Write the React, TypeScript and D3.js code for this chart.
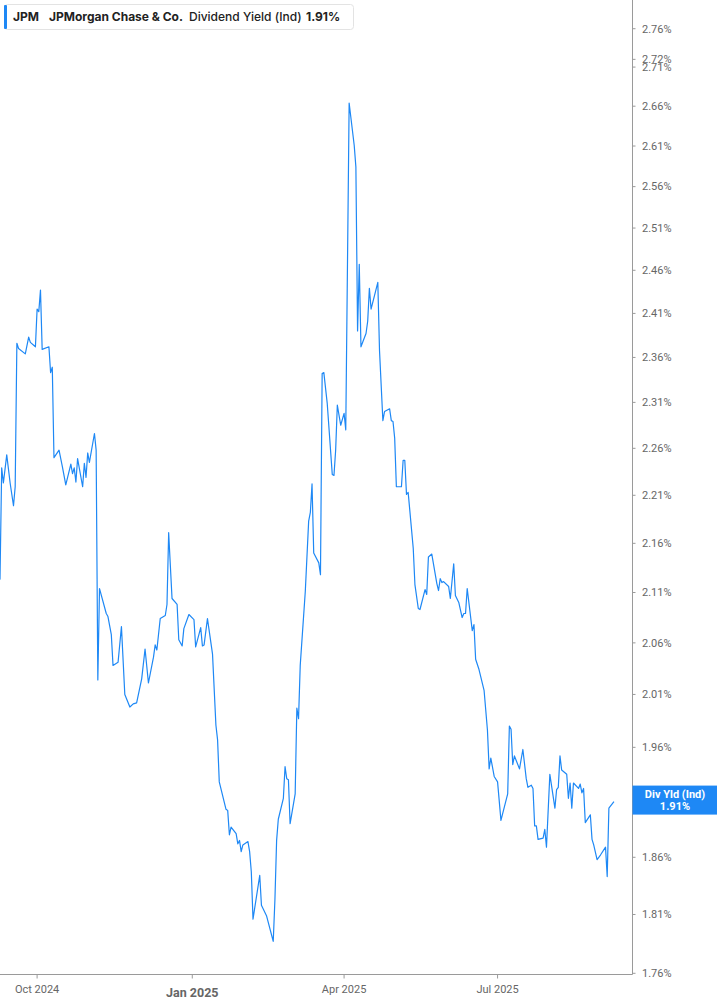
import React from "react";
import * as d3 from "d3";

const dates = [
  "2024-09-09","2024-09-10","2024-09-11","2024-09-13","2024-09-15","2024-09-17","2024-09-18","2024-09-19","2024-09-20","2024-09-24",
  "2024-09-26","2024-09-27","2024-09-30","2024-10-01","2024-10-02","2024-10-03","2024-10-04","2024-10-08","2024-10-09","2024-10-10",
  "2024-10-11","2024-10-14","2024-10-16","2024-10-18","2024-10-21","2024-10-22","2024-10-23","2024-10-24","2024-10-25","2024-10-28",
  "2024-10-29","2024-10-30","2024-10-31","2024-11-01","2024-11-04","2024-11-05","2024-11-06","2024-11-07","2024-11-11","2024-11-12",
  "2024-11-14","2024-11-15","2024-11-18","2024-11-20","2024-11-22","2024-11-25","2024-11-27","2024-11-29","2024-12-02","2024-12-04",
  "2024-12-06","2024-12-09","2024-12-10","2024-12-11","2024-12-13","2024-12-16","2024-12-17","2024-12-18","2024-12-20","2024-12-23",
  "2024-12-24","2024-12-26","2024-12-27","2024-12-30","2025-01-02","2025-01-03","2025-01-06","2025-01-07","2025-01-08","2025-01-10",
  "2025-01-13","2025-01-15","2025-01-16","2025-01-17","2025-01-21","2025-01-22","2025-01-23","2025-01-24","2025-01-27","2025-01-28",
  "2025-01-29","2025-01-30","2025-01-31","2025-02-03","2025-02-04","2025-02-05","2025-02-06","2025-02-10","2025-02-11","2025-02-14",
  "2025-02-18","2025-02-19","2025-02-20","2025-02-21","2025-02-24","2025-02-25","2025-02-26","2025-02-27","2025-02-28","2025-03-03",
  "2025-03-04","2025-03-05","2025-03-06","2025-03-09","2025-03-11","2025-03-12","2025-03-13","2025-03-14","2025-03-17","2025-03-18",
  "2025-03-19","2025-03-20","2025-03-22","2025-03-25","2025-03-26","2025-03-27","2025-03-28","2025-03-30","2025-04-01","2025-04-02",
  "2025-04-04","2025-04-07","2025-04-08","2025-04-09","2025-04-10","2025-04-11","2025-04-14","2025-04-15","2025-04-16","2025-04-17",
  "2025-04-21","2025-04-22","2025-04-24","2025-04-25","2025-04-28","2025-04-29","2025-04-30","2025-05-01","2025-05-02","2025-05-05",
  "2025-05-06","2025-05-07","2025-05-08","2025-05-09","2025-05-12","2025-05-13","2025-05-15","2025-05-16","2025-05-19","2025-05-20",
  "2025-05-21","2025-05-23","2025-05-26","2025-05-27","2025-05-28","2025-05-29","2025-05-30","2025-06-02","2025-06-03","2025-06-05",
  "2025-06-06","2025-06-08","2025-06-10","2025-06-11","2025-06-12","2025-06-13","2025-06-16","2025-06-17","2025-06-18","2025-06-20",
  "2025-06-23","2025-06-25","2025-06-26","2025-06-27","2025-06-29","2025-07-01","2025-07-03","2025-07-07","2025-07-08","2025-07-09",
  "2025-07-10","2025-07-11","2025-07-14","2025-07-16","2025-07-18","2025-07-19","2025-07-21","2025-07-22","2025-07-23","2025-07-24",
  "2025-07-25","2025-07-28","2025-07-29","2025-07-30","2025-08-01","2025-08-04","2025-08-05","2025-08-06","2025-08-07","2025-08-08",
  "2025-08-11","2025-08-12","2025-08-13","2025-08-14","2025-08-15","2025-08-18","2025-08-19","2025-08-20","2025-08-21","2025-08-22",
  "2025-08-25","2025-08-26","2025-08-27","2025-08-29","2025-08-31","2025-09-03","2025-09-04","2025-09-05","2025-09-08"
];

const yields = [
  2.123,2.239,2.223,2.253,2.223,2.199,2.219,2.376,2.370,2.364,
  2.383,2.377,2.372,2.415,2.412,2.437,2.369,2.372,2.343,2.349,
  2.250,2.258,2.240,2.221,2.243,2.233,2.239,2.224,2.249,2.219,
  2.244,2.229,2.255,2.245,2.276,2.258,2.024,2.114,2.089,2.086,
  2.068,2.038,2.041,2.076,2.010,1.998,2.001,2.002,2.025,2.054,
  2.021,2.046,2.058,2.053,2.084,2.087,2.098,2.171,2.104,2.098,
  2.063,2.057,2.074,2.088,2.083,2.056,2.075,2.057,2.058,2.084,
  2.049,1.981,1.967,1.928,1.903,1.902,1.880,1.887,1.881,1.872,
  1.875,1.865,1.871,1.874,1.865,1.847,1.806,1.844,1.818,1.809,
  1.787,1.823,1.875,1.894,1.913,1.942,1.931,1.930,1.890,1.917,
  1.997,1.987,2.038,2.111,2.183,2.192,2.222,2.150,2.140,2.128,
  2.342,2.343,2.309,2.232,2.231,2.258,2.307,2.285,2.298,2.280,
  2.664,2.611,2.584,2.390,2.467,2.372,2.387,2.401,2.439,2.415,
  2.446,2.368,2.290,2.300,2.303,2.290,2.289,2.271,2.219,2.219,
  2.247,2.247,2.211,2.213,2.155,2.118,2.094,2.093,2.113,2.108,
  2.146,2.149,2.119,2.112,2.124,2.120,2.121,2.116,2.104,2.139,
  2.107,2.100,2.085,2.089,2.089,2.114,2.072,2.078,2.044,2.034,
  2.014,1.976,1.940,1.950,1.933,1.928,1.893,1.917,1.980,1.977,
  1.944,1.952,1.940,1.958,1.931,1.923,1.925,1.922,1.888,1.888,
  1.876,1.877,1.885,1.869,1.935,1.904,1.921,1.923,1.952,1.939,
  1.935,1.913,1.927,1.904,1.927,1.922,1.926,1.918,1.922,1.891,
  1.898,1.876,1.871,1.858,1.862,1.869,1.843,1.904,1.910
];

const yTicks = [2.76, 2.72, 2.71, 2.66, 2.61, 2.56, 2.51, 2.46, 2.41, 2.36, 2.31, 2.26, 2.21, 2.16, 2.11, 2.06, 2.01, 1.96, 1.91, 1.86, 1.81, 1.76];
const xTickDates = ["2024-10-01", "2025-01-01", "2025-04-01", "2025-07-01"];
const xTickLabels = ["Oct 2024", "Jan 2025", "Apr 2025", "Jul 2025"];
const xTickBold = [false, true, false, false];
const domainStart = "2024-09-09";
const domainEnd = "2025-09-19";
const yDomain = [1.759, 2.798];

const ticker = "JPM";
const company = "JPMorgan Chase & Co.";
const metric = "Dividend Yield (Ind)";
const lastLabel = "Div Yld (Ind)";
const lastValue = 1.91;

const W = 717;
const H = 1005;
const plotRight = 632.5;
const plotBottom = 974.5;
const BLUE = "#1e88f5";
const AXIS = "#9a9a9a";
const LABEL = "#666666";
const FONT = "Roboto, 'Noto Sans', sans-serif";
const LFONT = "Inter, Roboto, sans-serif";

const parse = d3.timeParse("%Y-%m-%d");

export default function App() {
  const data = dates.map((d, i) => ({ date: parse(d) as Date, v: yields[i] }));
  const x = d3.scaleTime().domain([parse(domainStart) as Date, parse(domainEnd) as Date]).range([0, plotRight]);
  const y = d3.scaleLog().domain(yDomain).range([plotBottom, 0]);
  const line = d3
    .line<{ date: Date; v: number }>()
    .x((d) => x(d.date))
    .y((d) => y(d.v));
  const lastY = y(lastValue);

  return (
    <div style={{ position: "absolute", left: 0, top: 0 }}>
      <svg width={W} height={H} style={{ display: "block", background: "#fff" }}>
        <rect x={0} y={0} width={W} height={H} fill="#fff" />
        <path d={line(data) || ""} fill="none" stroke={BLUE} strokeWidth={1.2} strokeLinejoin="round" />

        {/* right axis */}
        <line x1={plotRight} x2={plotRight} y1={0} y2={plotBottom} stroke={AXIS} strokeWidth={1} />
        {yTicks.map((t) => (
          <g key={t} transform={`translate(0,${y(t)})`}>
            <line x1={plotRight} x2={plotRight + 3} y1={0} y2={0} stroke={AXIS} strokeWidth={1} />
            {Math.abs(t - lastValue) > 0.001 && (
              <text x={642} y={0} dy="0.35em" fontSize={11} fill={LABEL} fontFamily={FONT}>
                {t.toFixed(2)}%
              </text>
            )}
          </g>
        ))}

        {/* bottom axis */}
        <line x1={0} x2={plotRight} y1={plotBottom} y2={plotBottom} stroke={AXIS} strokeWidth={1} />
        {xTickDates.map((d, i) => {
          const px = x(parse(d) as Date);
          return (
            <g key={d}>
              <line x1={px} x2={px} y1={plotBottom} y2={plotBottom + 4} stroke={AXIS} strokeWidth={1} />
              <text
                x={px}
                y={xTickBold[i] ? 997 : 993}
                textAnchor="middle"
                fontSize={xTickBold[i] ? 12.5 : 11}
                fontWeight={xTickBold[i] ? 700 : 400}
                fill={LABEL}
                fontFamily={FONT}
              >
                {xTickLabels[i]}
              </text>
            </g>
          );
        })}

        {/* last value tag */}
        <rect x={plotRight} y={lastY - 16} width={W - plotRight} height={29} fill={BLUE} />
        <text x={675} y={lastY - 4} textAnchor="middle" fontSize={11} fontWeight={700} fill="#fff" fontFamily={FONT}>
          {lastLabel}
        </text>
        <text x={675} y={lastY + 8} textAnchor="middle" fontSize={11} fontWeight={700} fill="#fff" fontFamily={FONT}>
          {lastValue.toFixed(2)}%
        </text>

        {/* legend */}
        <rect x={4.5} y={4.5} width={349} height={25} rx={3} fill="#fff" stroke="#e3e3e3" strokeWidth={1} />
        <rect x={4} y={5} width={3} height={24} rx={1} fill={BLUE} />
        <g fontFamily={LFONT} fontSize={12} fill="#222">
          <text x={13} y={21}>
            <tspan fontWeight={700}>{ticker}</tspan>
          </text>
          <text x={49} y={21} fontWeight={700}>{company}</text>
          <text x={189} y={21} fontWeight={500}>{metric}</text>
          <text x={306} y={21} fontWeight={700}>{lastValue.toFixed(2)}%</text>
        </g>
      </svg>
    </div>
  );
}
